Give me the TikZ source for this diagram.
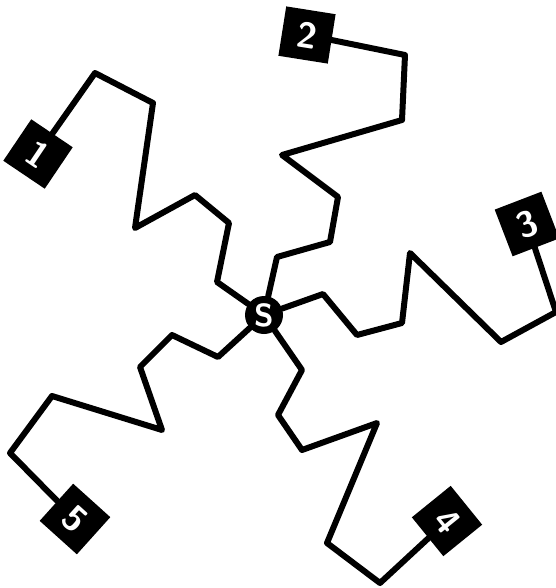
\documentclass[tikz,border=0pt]{standalone}
\usepackage{tikz}

\begin{document}
\begin{tikzpicture}[x=1pt,y=-1pt,
  wire/.style={line width=6pt, line join=round, line cap=round},
  post/.style={fill=black, minimum size=50pt, inner sep=0pt, text=white, font={\sffamily\bfseries\fontsize{36}{36}\selectfont}},
  hub/.style={circle, fill=black, minimum size=38pt, inner sep=0pt, text=white, font={\sffamily\bfseries\fontsize{32}{32}\selectfont}}]
\useasboundingbox (0,0) rectangle (555,588);
\node[hub] (S) at (264,315) {S};
\node[post, rotate=-34] (b1) at (38,154) {1};
\node[post, rotate=-9] (b2) at (307,35) {2};
\node[post, rotate=21] (b3) at (527,224) {3};
\node[post, rotate=-51] (b4) at (447,521) {4};
\node[post, rotate=-42] (b5) at (75,519) {5};
\draw[wire] (S) -- (217,282) -- (229,223) -- (195,195) -- (135,228) -- (153,103) -- (95,73) -- (b1);
\draw[wire] (S) -- (277,257) -- (330,242) -- (338,197) -- (282,155) -- (402,120) -- (405,55) -- (b2);
\draw[wire] (S) -- (323,294) -- (357,335) -- (402,323) -- (410,253) -- (501,342) -- (556,312) -- (b3);
\draw[wire] (S) -- (302,370) -- (278,415) -- (302,450) -- (377,423) -- (327,543) -- (380,583) -- (b4);
\draw[wire] (S) -- (218,357) -- (172,335) -- (140,367) -- (162,430) -- (52,396) -- (10,453) -- (b5);
\end{tikzpicture}
\end{document}
